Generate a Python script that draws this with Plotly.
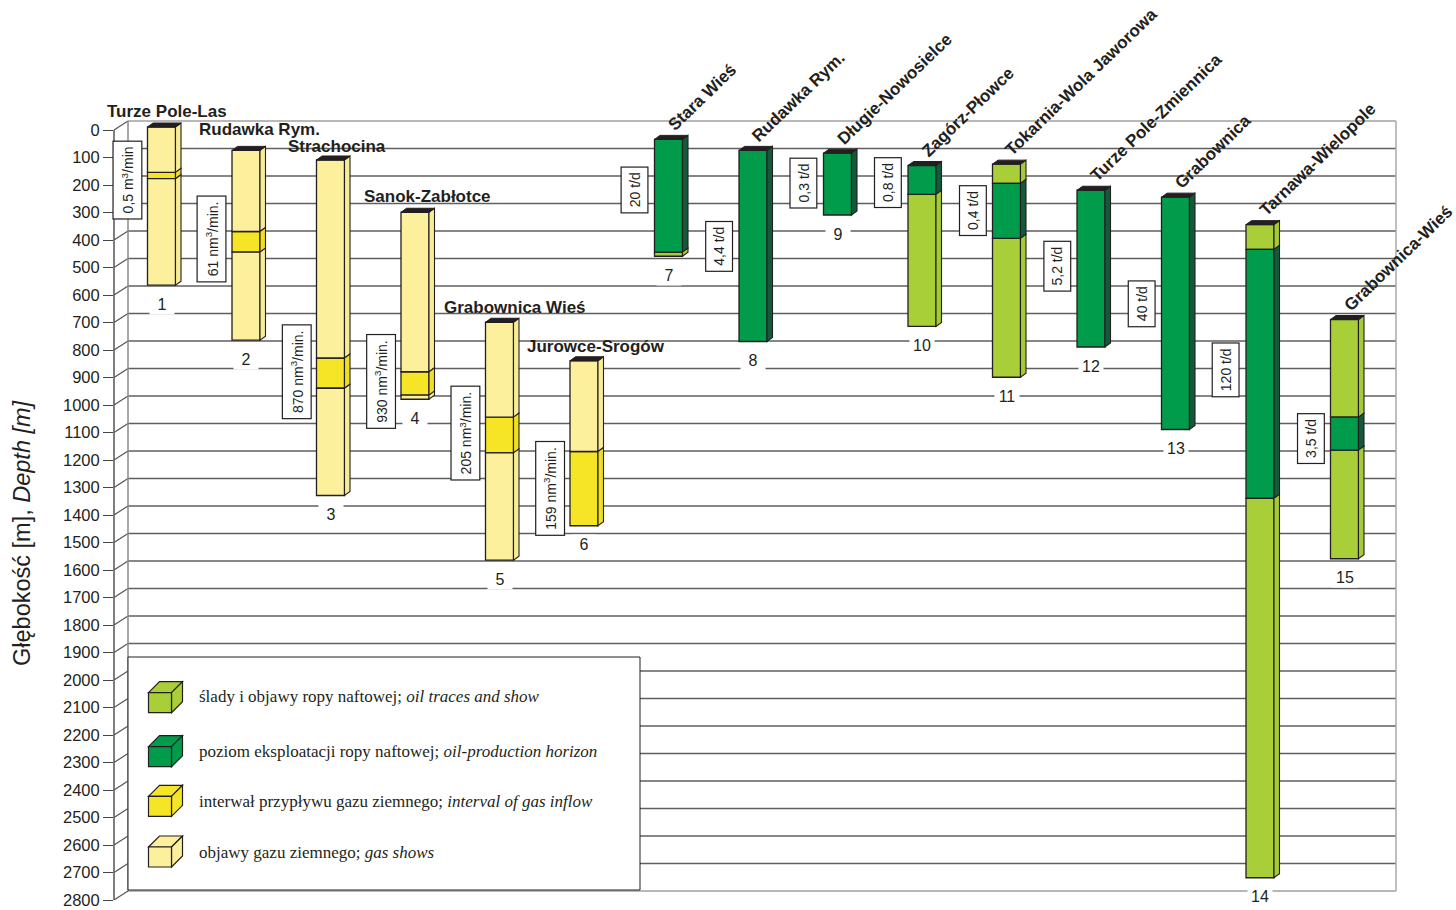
import plotly.graph_objects as go

# ------------------------------------------------------------------ data
WELL_NO = [1, 2, 3, 4, 5, 6, 7, 8, 9, 10, 11, 12, 13, 14, 15]
WELL_NAMES = ["Turze Pole-Las", "Rudawka Rym.", "Strachocina", "Sanok-Zabłotce",
              "Grabownica Wieś", "Jurowce-Srogów", "Stara Wieś", "Rudawka Rym.",
              "Długie-Nowosielce", "Zagórz-Płowce", "Tokarnia-Wola Jaworowa",
              "Turze Pole-Zmiennica", "Grabownica", "Tarnawa-Wielopole",
              "Grabownica-Wieś"]
# depth boundaries of intervals [m] for every well (top ... bottom)
WELL_BOUNDS = [
    [0, 165, 188, 575],
    [85, 380, 455, 775],
    [120, 840, 950, 1340],
    [310, 890, 975, 990],
    [710, 1055, 1185, 1575],
    [850, 1180, 1450],
    [45, 455, 470],
    [85, 780],
    [95, 320],
    [140, 245, 725],
    [135, 205, 405, 910],
    [230, 800],
    [255, 1100],
    [355, 445, 1350, 2730],
    [700, 1055, 1175, 1570],
]
WELL_KINDS = [
    ["gas_show", "gas_inflow", "gas_show"],
    ["gas_show", "gas_inflow", "gas_show"],
    ["gas_show", "gas_inflow", "gas_show"],
    ["gas_show", "gas_inflow", "gas_show"],
    ["gas_show", "gas_inflow", "gas_show"],
    ["gas_show", "gas_inflow"],
    ["oil_prod", "oil_show"],
    ["oil_prod"],
    ["oil_prod"],
    ["oil_prod", "oil_show"],
    ["oil_show", "oil_prod", "oil_show"],
    ["oil_prod"],
    ["oil_prod"],
    ["oil_show", "oil_prod", "oil_show"],
    ["oil_show", "oil_prod", "oil_show"],
]
RATE_TEXT = ["0,5 m<sup>3</sup>/min", "61 nm<sup>3</sup>/min.", "870 nm<sup>3</sup>/min.",
             "930 nm<sup>3</sup>/min.", "205 nm<sup>3</sup>/min.", "159 nm<sup>3</sup>/min.",
             "20 t/d", "4,4 t/d", "0,3 t/d", "0,8 t/d", "0,4 t/d", "5,2 t/d",
             "40 t/d", "120 t/d", "3,5 t/d"]
DEPTH_TICKS = [0, 100, 200, 300, 400, 500, 600, 700, 800, 900, 1000, 1100, 1200,
               1300, 1400, 1500, 1600, 1700, 1800, 1900, 2000, 2100, 2200, 2300,
               2400, 2500, 2600, 2700, 2800]
KIND_ORDER = ["oil_show", "oil_prod", "gas_inflow", "gas_show"]
LEGEND_PL = ["ślady i objawy ropy naftowej; ", "poziom eksploatacji ropy naftowej; ",
             "interwał przypływu gazu ziemnego; ", "objawy gazu ziemnego; "]
LEGEND_EN = ["oil traces and show", "oil-production horizon",
             "interval of gas inflow", "gas shows"]

# ------------------------------------------------------------------ styles / layout
FRONT = {"oil_show": "#a8cf38", "oil_prod": "#009b4b",
         "gas_inflow": "#f6e526", "gas_show": "#fcf09c"}
SIDE = {"oil_show": "#a4cb36", "oil_prod": "#145a3a",
        "gas_inflow": "#efde22", "gas_show": "#f7ec98"}
INK = "#231f20"
GRID = "#5f5f5f"
SANS = "Liberation Sans, Arial, sans-serif"
SERIF = "Liberation Serif, Times New Roman, serif"

W, H = 1456, 910
ML, MR, MT, MB = 114, 60, 100, 10
PW, PH = W - ML - MR, H - MT - MB
X_PX = 84.5            # px between wells
X_FIRST_PX = 161.5     # pixel of first well
XMIN = 1 - (X_FIRST_PX - ML) / X_PX
XMAX = XMIN + PW / X_PX
PX_PER_M = 0.275
BAR_ZERO_PX = 127
Y_TOP = (MT - BAR_ZERO_PX) / PX_PER_M
Y_BOT = Y_TOP + PH / PX_PER_M
FRONT_SHIFT = 3 / PX_PER_M      # axis plane is 3 px below bar plane
WALL_DX_PX, WALL_DY_PX = 14, 9  # back wall offset
BAR_W = 28 / X_PX
DX = 5.5 / X_PX
DY = 4 / PX_PER_M


def px_x(p):
    return (p - ML) / PW


def px_y(p):
    return (H - MB - p) / PH


fig = go.Figure()

# front faces of the interval bars
for kind in KIND_ORDER:
    xs, bases, lens = [], [], []
    for w, bounds, kinds in zip(WELL_NO, WELL_BOUNDS, WELL_KINDS):
        for i, k in enumerate(kinds):
            if k == kind:
                xs.append(w)
                bases.append(bounds[i])
                lens.append(bounds[i + 1] - bounds[i])
    fig.add_trace(go.Bar(x=xs, y=lens, base=bases, width=BAR_W,
                         marker=dict(color=FRONT[kind], line=dict(color=INK, width=1.3)),
                         showlegend=False, hoverinfo="skip"))

# invisible trace to hold the front (tick) axis
fig.add_trace(go.Scatter(x=[1], y=[0], yaxis="y2", mode="markers",
                         marker=dict(opacity=0), showlegend=False, hoverinfo="skip"))

shapes = []
wall_x0 = WALL_DX_PX / PW
wall_dm = WALL_DY_PX / PX_PER_M
# back-wall grid lines (in front-axis units)
for d in DEPTH_TICKS:
    col = "#a0a0a0" if d in (DEPTH_TICKS[0], DEPTH_TICKS[-1]) else GRID
    shapes.append(dict(type="line", xref="paper", yref="y2", x0=wall_x0, x1=1,
                       y0=d - wall_dm, y1=d - wall_dm, line=dict(color=col, width=1.3),
                       layer="below"))
    shapes.append(dict(type="line", xref="paper", yref="y2", x0=0, x1=wall_x0,
                       y0=d, y1=d - wall_dm, line=dict(color="#555555", width=1.2),
                       layer="below"))
# wall edges and front axis
shapes.append(dict(type="line", xref="paper", yref="y2", x0=wall_x0, x1=wall_x0,
                   y0=DEPTH_TICKS[0] - wall_dm, y1=DEPTH_TICKS[-1] - wall_dm,
                   line=dict(color="#8a8a8a", width=1.5), layer="below"))
shapes.append(dict(type="line", xref="paper", yref="y2", x0=1, x1=1,
                   y0=DEPTH_TICKS[0] - wall_dm, y1=DEPTH_TICKS[-1] - wall_dm,
                   line=dict(color="#a8a8a8", width=1.5), layer="below"))
shapes.append(dict(type="line", xref="paper", yref="y2", x0=0, x1=0,
                   y0=DEPTH_TICKS[0], y1=DEPTH_TICKS[-1],
                   line=dict(color="#555555", width=1.5), layer="below"))

# legend frame
shapes.append(dict(type="rect", xref="paper", yref="paper",
                   x0=px_x(128), x1=px_x(640), y0=px_y(890), y1=px_y(657),
                   fillcolor="white", line=dict(color=INK, width=1), layer="below"))

# 3-D side and top faces of bars
for w, bounds, kinds in zip(WELL_NO, WELL_BOUNDS, WELL_KINDS):
    xl, xr = w - BAR_W / 2, w + BAR_W / 2
    for i, k in enumerate(kinds):
        t, b = bounds[i], bounds[i + 1]
        shapes.append(dict(type="path", xref="x", yref="y",
                           path=f"M {xr},{t} L {xr + DX},{t - DY} L {xr + DX},{b - DY} L {xr},{b} Z",
                           fillcolor=SIDE[k], line=dict(color=INK, width=1.1), layer="above"))
    t0 = bounds[0]
    shapes.append(dict(type="path", xref="x", yref="y",
                       path=f"M {xl},{t0} L {xl + DX},{t0 - DY} L {xr + DX},{t0 - DY} L {xr},{t0} Z",
                       fillcolor=INK, line=dict(color=INK, width=1), layer="above"))

# legend cubes
LEG_Y = [702.7, 756.7, 806.3, 857.0]
for kind, yc in zip(KIND_ORDER, LEG_Y):
    x0, x1 = 148.5, 171.5
    y0, y1 = yc + 10, yc - 10
    cdx, cdy = 11, 11
    fx = px_x
    fy = px_y
    shapes.append(dict(type="path", xref="paper", yref="paper",
                       path=(f"M {fx(x0)},{fy(y1)} L {fx(x0 + cdx)},{fy(y1 - cdy)} "
                             f"L {fx(x1 + cdx)},{fy(y1 - cdy)} L {fx(x1)},{fy(y1)} Z"),
                       fillcolor=FRONT[kind], line=dict(color=INK, width=1.2)))
    shapes.append(dict(type="path", xref="paper", yref="paper",
                       path=(f"M {fx(x1)},{fy(y1)} L {fx(x1 + cdx)},{fy(y1 - cdy)} "
                             f"L {fx(x1 + cdx)},{fy(y0 - cdy)} L {fx(x1)},{fy(y0)} Z"),
                       fillcolor=FRONT[kind], line=dict(color=INK, width=1.2)))
    shapes.append(dict(type="rect", xref="paper", yref="paper",
                       x0=fx(x0), x1=fx(x1), y0=fy(y0), y1=fy(y1),
                       fillcolor=FRONT[kind], line=dict(color=INK, width=1.2)))

annotations = []
# well names
H_NAME_DX = [5.5, 13, 6.5, 12, 15.5, 12]
H_NAME_DY = [16, 21, 13.5, 15.5, 15, 14]
for idx, (w, name, bounds) in enumerate(zip(WELL_NO, WELL_NAMES, WELL_BOUNDS)):
    if idx < 6:
        annotations.append(dict(x=w, y=bounds[0], xref="x", yref="y", text=f"<b>{name}</b>",
                                showarrow=False, xanchor="center", yanchor="middle",
                                xshift=H_NAME_DX[idx], yshift=H_NAME_DY[idx],
                                font=dict(family=SANS, size=17, color=INK)))
    else:
        annotations.append(dict(x=w, y=bounds[0], xref="x", yref="y", text=f"<b>{name}</b>",
                                showarrow=False, xanchor="left", yanchor="bottom",
                                textangle=-44, xshift=-7, yshift=2,
                                font=dict(family=SANS, size=17, color=INK)))

# rate boxes
RATE_Y = [193, 409, 890, 927, 1113, 1316, 229, 436, 204, 204, 304, 508, 643, 885, 1133]
for w, txt, yv in zip(WELL_NO, RATE_TEXT, RATE_Y):
    annotations.append(dict(x=w, y=yv, xref="x", yref="y", text=txt, showarrow=False,
                            textangle=-90, xshift=-34, bgcolor="white",
                            bordercolor=INK, borderwidth=1.2, borderpad=5,
                            font=dict(family=SANS, size=14, color=INK)))

# well numbers below bars
for w, bounds in zip(WELL_NO, WELL_BOUNDS):
    annotations.append(dict(x=w, y=bounds[-1], xref="x", yref="y", text=str(w),
                            showarrow=False, yshift=-19, bgcolor="white", width=22,
                            font=dict(family=SANS, size=16, color=INK)))

# legend texts
LEG_TY = [696.7, 751.7, 801.7, 852.7]
for pl, en, yc in zip(LEGEND_PL, LEGEND_EN, LEG_TY):
    annotations.append(dict(x=px_x(197), y=px_y(yc), xref="paper", yref="paper",
                            text=f"{pl}<i>{en}</i>", showarrow=False,
                            xanchor="left", yanchor="middle",
                            font=dict(family=SERIF, size=17, color=INK)))

# axis title
annotations.append(dict(x=px_x(22), y=px_y(533), xref="paper", yref="paper",
                        text="Głębokość [m], <i>Depth [m]</i>", showarrow=False,
                        textangle=-90, xanchor="center", yanchor="middle",
                        font=dict(family=SANS, size=23.5, color=INK)))

fig.update_layout(
    width=W, height=H,
    margin=dict(l=ML, r=MR, t=MT, b=MB, autoexpand=False),
    paper_bgcolor="white", plot_bgcolor="white", barmode="overlay",
    showlegend=False,
    xaxis=dict(range=[XMIN, XMAX], visible=False, fixedrange=True, automargin=False),
    yaxis=dict(range=[Y_BOT, Y_TOP], showgrid=False, zeroline=False, automargin=False,
               showticklabels=False, ticks="", showline=False),
    yaxis2=dict(range=[Y_BOT - FRONT_SHIFT, Y_TOP - FRONT_SHIFT], overlaying="y",
                side="left", anchor="x", showgrid=False, zeroline=False, automargin=False,
                tickmode="array", tickvals=DEPTH_TICKS, ticks="outside", ticklen=10,
                tickwidth=1.2, tickcolor="#444444", showline=False,
                tickfont=dict(family=SANS, size=16.5, color=INK)),
    shapes=shapes, annotations=annotations,
)

fig.write_html("out.html")
